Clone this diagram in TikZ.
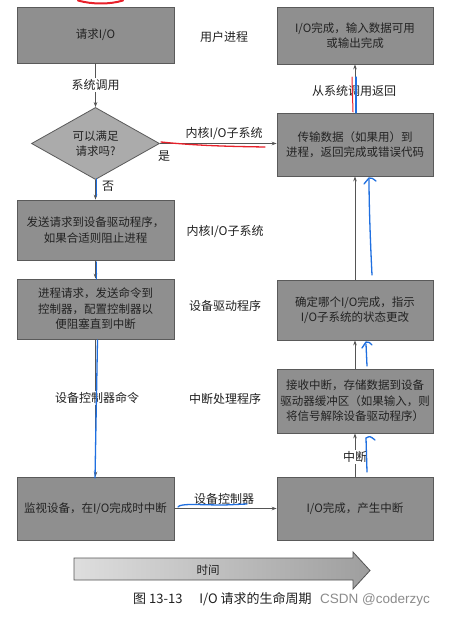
\documentclass[tikz,border=0pt]{standalone}
\usepackage{fontspec}
\setmainfont{Noto Sans CJK SC}
\newfontfamily\wmfont{Liberation Sans}
\usetikzlibrary{shapes.geometric,arrows.meta}
\definecolor{boxgray}{HTML}{8F8F8F}
\definecolor{diagray}{HTML}{ABABAB}
\definecolor{boxedge}{HTML}{5A5A5A}
\definecolor{boxtext}{HTML}{222222}
\definecolor{labtext}{HTML}{202020}
\definecolor{linegray}{HTML}{555555}
\definecolor{penblue}{HTML}{1F6FE0}
\definecolor{penred}{HTML}{E8202A}
\begin{document}
\begin{tikzpicture}[x=1pt,y=-1pt,
  box/.style={draw=boxedge, fill=boxgray, line width=0.8pt, minimum width=157pt,
    inner sep=0pt, align=center, text=boxtext, font=\fontsize{11.5}{15.5}\selectfont},
  dia/.style={diamond, draw=boxedge, fill=diagray, line width=0.8pt, minimum width=128pt,
    minimum height=67pt, inner sep=0pt, align=center, text=boxtext, font=\fontsize{11.5}{15.5}\selectfont},
  lab/.style={text=labtext, font=\fontsize{12}{15}\selectfont, inner sep=1pt},
  onlab/.style={lab, fill=white, inner sep=1.5pt},
  conn/.style={draw=linegray, line width=1pt, -{Stealth[length=5pt,width=3.6pt]}},
  pen/.style={line width=1.3pt, line cap=round, line join=round},
]
\useasboundingbox (0,0) rectangle (448,626);
\fill[white] (0,0) rectangle (448,626);

% left column
\node[box, minimum height=56pt] (req) at (95.5,35) {请求I/O};
\node[dia] (dec) at (95.5,143.5) {可以满足\\请求吗?};
\node[box, minimum height=60pt] (send) at (95.5,230) {发送请求到设备驱动程序，\\如果合适则阻止进程};
\node[box, minimum height=60pt] (proc) at (95.5,309) {进程请求，发送命令到\\控制器，配置控制器以\\便阻塞直到中断};
\node[box, minimum height=63pt] (mon) at (95.5,508.5) {监视设备，在I/O完成时中断};

% right column
\node[box, minimum width=156pt, minimum height=57pt] (done) at (355,35.5) {I/O完成，输入数据可用\\或输出完成};
\node[box, minimum width=156pt, minimum height=63pt] (xfer) at (355,144.5) {传输数据（如果用）到\\进程，返回完成或错误代码};
\node[box, minimum width=156pt, minimum height=60pt] (det) at (355,310) {确定哪个I/O完成，指示\\I/O子系统的状态更改};
\node[box, minimum width=156pt, minimum height=64pt] (recv) at (355,401) {接收中断，存储数据到设备\\驱动器缓冲区（如果输入，则\\将信号解除设备驱动程序）};
\node[box, minimum width=156pt, minimum height=63pt] (irq) at (355,508.5) {I/O完成，产生中断};

% middle layer labels
\node[lab] (l1) at (224,37) {用户进程};
\node[lab] (l2) at (225,232) {内核I/O子系统};
\node[lab] (l3) at (225,306) {设备驱动程序};
\node[lab] (l4) at (225,399) {中断处理程序};

% connectors
\draw[conn] (req.south) -- (dec.north);
\node[onlab] (syscall) at (95.5,85) {系统调用};
\draw[conn] (dec.south) -- (send.north);
\node[lab, anchor=west] (no) at (101,186) {否};
\draw[conn] (send.south) -- (proc.north);
\draw[conn] (proc.south) -- (mon.north);
\node[onlab] (devcmd) at (97,398) {设备控制器命令};
\draw[conn] (dec.east) -- (dec.east -| xfer.west);
\node[lab] (kio) at (224,134) {内核I/O子系统};
\node[lab] (yes) at (164,156) {是};
\draw[conn] (xfer.north) -- (done.south);
\node[onlab] (ret) at (354,91) {从系统调用返回};
\draw[conn] (det.north) -- (xfer.south);
\draw[conn] (recv.north) -- (det.south);
\draw[conn] (irq.north) -- (recv.south);
\node[onlab] (intr) at (355,457) {中断};
\draw[conn] (mon.east) -- (irq.west);
\node[lab] (ctrl) at (224,499) {设备控制器};

% time arrow
\shade[left color=black!13, right color=black!38, draw=linegray, line width=0.8pt]
  (74,558) -- (353,558) -- (353,552) -- (370,570.5) -- (353,589) -- (353,580) -- (74,580) -- cycle;
\node[lab, font=\fontsize{11.5}{14}\selectfont] (time) at (208,570) {时间};

% caption
\node[lab, anchor=west, font=\fontsize{13}{15}\selectfont] (cap) at (132,599) {图 13-13\hspace{1.3em}I/O 请求的生命周期};
\node[anchor=west, text=black!45, font=\wmfont\fontsize{13.5}{15}\selectfont, inner sep=0pt] (wm) at (320,600) {CSDN @coderzyc};

% hand-drawn pen marks
\draw[pen, penred, line width=2pt] (78,0.5) .. controls (92,4.5) and (110,4.5) .. (123,0.5);
\draw[pen, penred] (161,142) .. controls (200,146) and (235,146.5) .. (265,147);
\draw[pen, penred, line width=1pt] (352,77) -- (353,112);
\draw[pen, penblue] (356,77) -- (356,113);
\draw[pen, penblue] (372,275) .. controls (370,235) and (369,200) .. (369,179);
\draw[pen, penblue] (364,184) .. controls (366,181) .. (369,178) .. controls (372,178) .. (376,181);
\draw[pen, penblue] (367,366) -- (366,344);
\draw[pen, penblue] (362,348) .. controls (364,345) .. (366,342) .. controls (369,342) .. (372,345);
\draw[pen, penblue] (367,472) -- (366,438);
\draw[pen, penblue] (366,438) .. controls (370,436) .. (375,440);
\draw[pen, penblue] (96.5,179) -- (96.5,196);
\draw[pen, penblue] (96.5,262) -- (96.5,279);
\draw[pen, penblue] (97.5,340) -- (95,478);
\draw[pen, penblue] (178,507) .. controls (180,503) and (200,505) .. (224,505) .. controls (235,505) .. (247,504);
\end{tikzpicture}
\end{document}
